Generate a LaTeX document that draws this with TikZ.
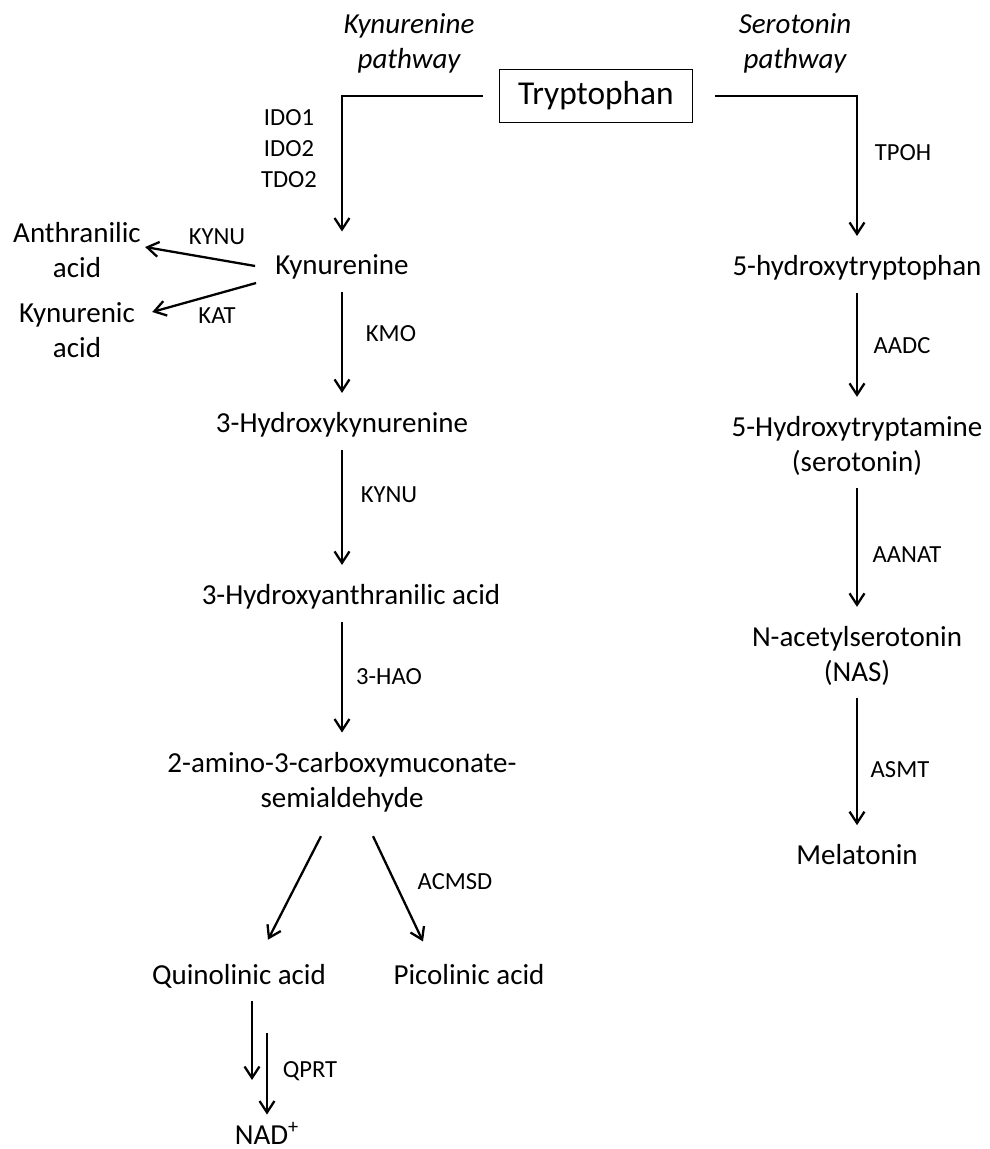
\documentclass[tikz,border=0pt]{standalone}
\usepackage{fontspec}
\setmainfont{Carlito}
\usetikzlibrary{arrows.meta,calc,positioning}
\tikzset{>={Straight Barb[length=6.5pt,width=8.5pt]}}

\begin{document}
\begin{tikzpicture}[x=0.02cm,y=-0.02cm,
    chem/.style={font=\fontsize{16.5}{19.8}\selectfont,inner sep=0pt,align=center},
    enz/.style={font=\fontsize{14}{17.6}\selectfont,inner sep=0pt,align=center},
    way/.style={font=\fontsize{16.5}{19.8}\selectfont\itshape,inner sep=0pt,align=center},
    trpbox/.style={draw,line width=0.75pt,font=\fontsize{19}{22}\selectfont,
        minimum width=110pt,minimum height=30.5pt,inner sep=0pt},
    conv/.style={->,line width=1.3pt,shorten <=7pt,shorten >=11pt}]
  \useasboundingbox (0,0) rectangle (990,1149);

  % start and pathway names
  \node[trpbox] (trp) at (596,96) {Tryptophan};
  \node[way] (kp) at (409,43) {Kynurenine\\pathway};
  \node[way] (sp) at (795,43) {Serotonin\\pathway};

  % kynurenine pathway
  \node[chem] (kyn) at (342,267) {Kynurenine};
  \node[chem] (anth) at (77,250) {Anthranilic\\acid};
  \node[chem] (kyna) at (77,330) {Kynurenic\\acid};
  \node[chem] (hk) at (342,425) {3-Hydroxykynurenine};
  \node[chem] (ha) at (351,597) {3-Hydroxyanthranilic acid};
  \node[chem] (acms) at (342,782) {2-amino-3-carboxymuconate-\\semialdehyde};
  \node[chem] (quin) at (239,976) {Quinolinic acid};
  \node[chem] (pic) at (469,975) {Picolinic acid};
  \node[chem] (nad) at (267,1133) {NAD\textsuperscript{+}};

  % serotonin pathway
  \node[chem] (htp) at (857,268) {5-hydroxytryptophan};
  \node[chem] (ser) at (857,446) {5-Hydroxytryptamine\\(serotonin)};
  \node[chem] (nas) at (857,656) {N-acetylserotonin\\(NAS)};
  \node[chem] (mel) at (857,855) {Melatonin};

  % enzymes
  \node[enz] (ido) at (289,149) {IDO1\\IDO2\\TDO2};
  \node[enz] (tpoh) at (903,153) {TPOH};
  \node[enz] (kynu1) at (217,237) {KYNU};
  \node[enz] (kat) at (217,316) {KAT};
  \node[enz] (kmo) at (391,334) {KMO};
  \node[enz] (kynu2) at (389,495) {KYNU};
  \node[enz] (hao) at (389,677) {3-HAO};
  \node[enz] (acmsd) at (455,882) {ACMSD};
  \node[enz] (qprt) at (310,1071) {QPRT};
  \node[enz] (aadc) at (902,346) {AADC};
  \node[enz] (aanat) at (907,555) {AANAT};
  \node[enz] (asmt) at (900,770) {ASMT};

  \coordinate (qa) at (252,1080);
  \coordinate (qb) at (267,1033);

  % connectors
  \draw[conv,shorten <=9pt,shorten >=13pt] (trp.west) -| (kyn.north);
  \draw[conv,shorten <=12.5pt,shorten >=11pt] (trp.east) -| (htp.north);
  \draw[conv,shorten <=0pt,shorten >=0pt] ($(kyn.west)+(-20,-1)$) -- ($(anth.east)+(4,-3)$);
  \draw[conv,shorten <=0pt,shorten >=0pt] ($(kyn.west)+(-19,16)$) -- ($(kyna.east)+(17,-18)$);
  \draw[conv] (kyn.south) -- (hk.north);
  \draw[conv] (hk.south) -- (hk.south |- ha.north);
  \draw[conv] (acms.north |- ha.south) -- (acms.north);
  \draw[conv,shorten <=0pt,shorten >=0pt] ($(acms.south)+(-21,24)$) -- ($(quin.north)+(29,-24)$);
  \draw[conv,shorten <=0pt,shorten >=0pt] ($(acms.south)+(31,24)$) -- ($(pic.north)+(-46,-23)$);
  \draw[conv,shorten >=0pt] (quin.south -| qa) -- (qa);
  \draw[conv,shorten <=0pt,shorten >=4pt] (qb) -- (qb |- nad.north);
  \draw[conv] (htp.south) -- (ser.north);
  \draw[conv] (ser.south) -- (nas.north);
  \draw[conv] (nas.south) -- (mel.north);
\end{tikzpicture}
\end{document}
